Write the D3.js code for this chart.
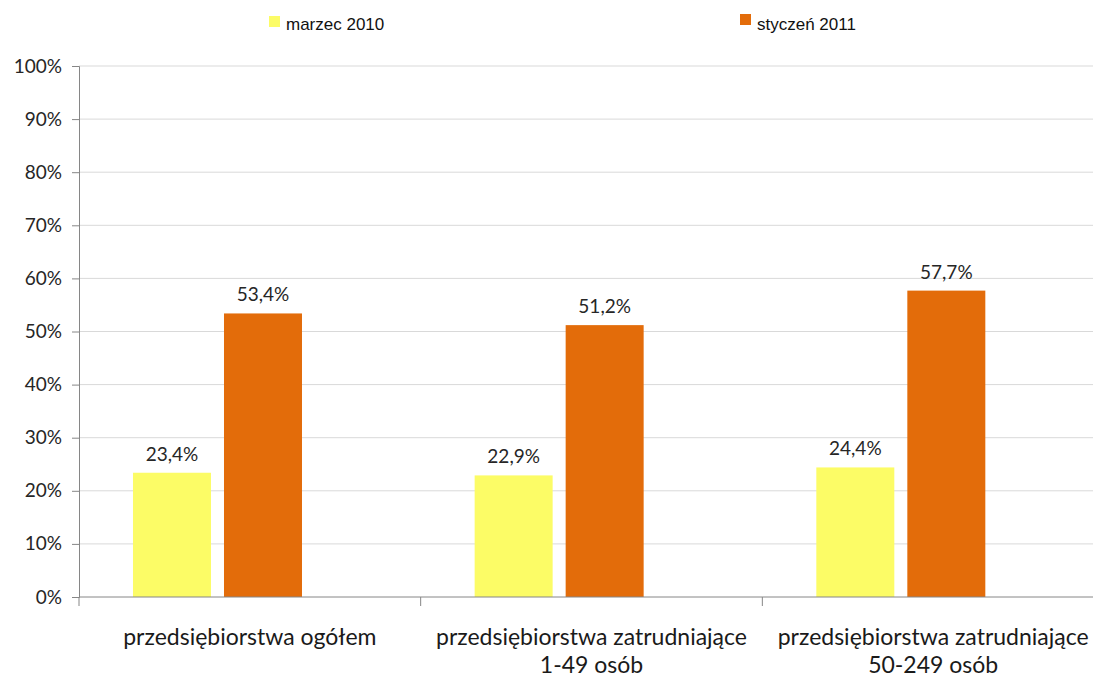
<!DOCTYPE html>
<html>
<head>
<meta charset="utf-8">
<script src="https://cdn.jsdelivr.net/npm/d3@7"></script>
<style>
  body { margin: 0; background: #fff; }
  svg { display: block; }
</style>
</head>
<body>
<div id="chart"></div>
<script>
const categories = [
  ["przedsiębiorstwa ogółem"],
  ["przedsiębiorstwa zatrudniające", "1-49 osób"],
  ["przedsiębiorstwa zatrudniające", "50-249 osób"]
];
const seriesNames = ["marzec 2010", "styczeń 2011"];
const marzec2010 = [23.4, 22.9, 24.4];
const styczen2011 = [53.4, 51.2, 57.7];
const yTicks = [0, 10, 20, 30, 40, 50, 60, 70, 80, 90, 100];
const colors = ["#fcfc66", "#e36c0a"];

const width = 1093;
const height = 675;
const margin = { top: 66, right: -11, bottom: 78, left: 79 };
const innerWidth = width - margin.left - margin.right;
const innerHeight = height - margin.top - margin.bottom;

const labelFont = "Lato, 'Open Sans', sans-serif";

const svg = d3.select("#chart").append("svg")
  .attr("width", width)
  .attr("height", height);

const g = svg.append("g")
  .attr("transform", `translate(${margin.left},${margin.top})`);

const catKeys = categories.map((d, i) => i);

const x0 = d3.scaleBand()
  .domain(catKeys)
  .range([0, innerWidth]);

// bars sit left of centre in each group, like the original
const x1 = d3.scaleBand()
  .domain(seriesNames)
  .range([x0.bandwidth() * 0.158, x0.bandwidth() * 0.158 + 169])
  .paddingInner(0.143);

const y = d3.scaleLinear()
  .domain([0, 100])
  .range([innerHeight, 0]);

// gridlines
g.append("g")
  .selectAll("line")
  .data(yTicks.filter(d => d > 0))
  .join("line")
  .attr("x1", 0)
  .attr("x2", innerWidth)
  .attr("y1", d => y(d))
  .attr("y2", d => y(d))
  .attr("stroke", "#d9d9d9")
  .attr("stroke-width", 1);

// y axis
const yAxis = g.append("g")
  .call(d3.axisLeft(y).tickValues(yTicks).tickFormat(d => d + "%").tickSize(7).tickPadding(10));
yAxis.select(".domain").attr("stroke", "#868686");
yAxis.selectAll(".tick line").attr("stroke", "#868686");
yAxis.selectAll("text")
  .style("font-family", labelFont)
  .style("font-size", "19px")
  .style("fill", "#262626");

// bars
const data = catKeys.map(i => ({ cat: i, values: [marzec2010[i], styczen2011[i]] }));

const groups = g.append("g")
  .selectAll("g")
  .data(data)
  .join("g")
  .attr("transform", d => `translate(${x0(d.cat)},0)`);

groups.selectAll("rect")
  .data(d => d.values.map((v, j) => ({ key: seriesNames[j], value: v, j })))
  .join("rect")
  .attr("x", d => x1(d.key))
  .attr("y", d => y(d.value))
  .attr("width", x1.bandwidth())
  .attr("height", d => y(0) - y(d.value))
  .attr("fill", d => colors[d.j]);

groups.selectAll("text.val")
  .data(d => d.values.map((v, j) => ({ key: seriesNames[j], value: v })))
  .join("text")
  .attr("class", "val")
  .attr("x", d => x1(d.key) + x1.bandwidth() / 2)
  .attr("y", d => y(d.value) - 12)
  .attr("text-anchor", "middle")
  .style("font-family", labelFont)
  .style("font-size", "19px")
  .style("fill", "#262626")
  .text(d => d.value.toFixed(1).replace(".", ",") + "%");

// x axis
const xAxisG = g.append("g")
  .attr("transform", `translate(0,${innerHeight})`);
xAxisG.append("line")
  .attr("x1", 0)
  .attr("x2", innerWidth)
  .attr("stroke", "#868686");
xAxisG.selectAll("line.tick")
  .data(catKeys)
  .join("line")
  .attr("class", "tick")
  .attr("x1", d => x0(d))
  .attr("x2", d => x0(d))
  .attr("y1", 0)
  .attr("y2", 9)
  .attr("stroke", "#868686");

xAxisG.selectAll("text")
  .data(categories)
  .join("text")
  .attr("x", (d, i) => x0(i) + x0.bandwidth() / 2)
  .attr("y", 48)
  .attr("text-anchor", "middle")
  .style("font-family", labelFont)
  .style("font-size", "23px")
  .style("fill", "#1a1a1a")
  .each(function(lines) {
    const t = d3.select(this);
    lines.forEach((line, k) => {
      t.append("tspan")
        .attr("x", t.attr("x"))
        .attr("dy", k === 0 ? 0 : 28)
        .text(line);
    });
  });

// legend
const legendPos = [269, 740];
const legend = svg.append("g")
  .style("font-family", "'Liberation Sans', Arial, sans-serif");
seriesNames.forEach((name, i) => {
  const lg = legend.append("g")
    .attr("transform", `translate(${legendPos[i]},${i === 0 ? 16 : 14})`);
  lg.append("rect")
    .attr("width", 11)
    .attr("height", 11)
    .attr("fill", colors[i]);
  lg.append("text")
    .attr("x", 17)
    .attr("y", i === 0 ? 14 : 16)
    .style("font-size", "17px")
    .style("fill", "#111")
    .text(name);
});
</script>
</body>
</html>
